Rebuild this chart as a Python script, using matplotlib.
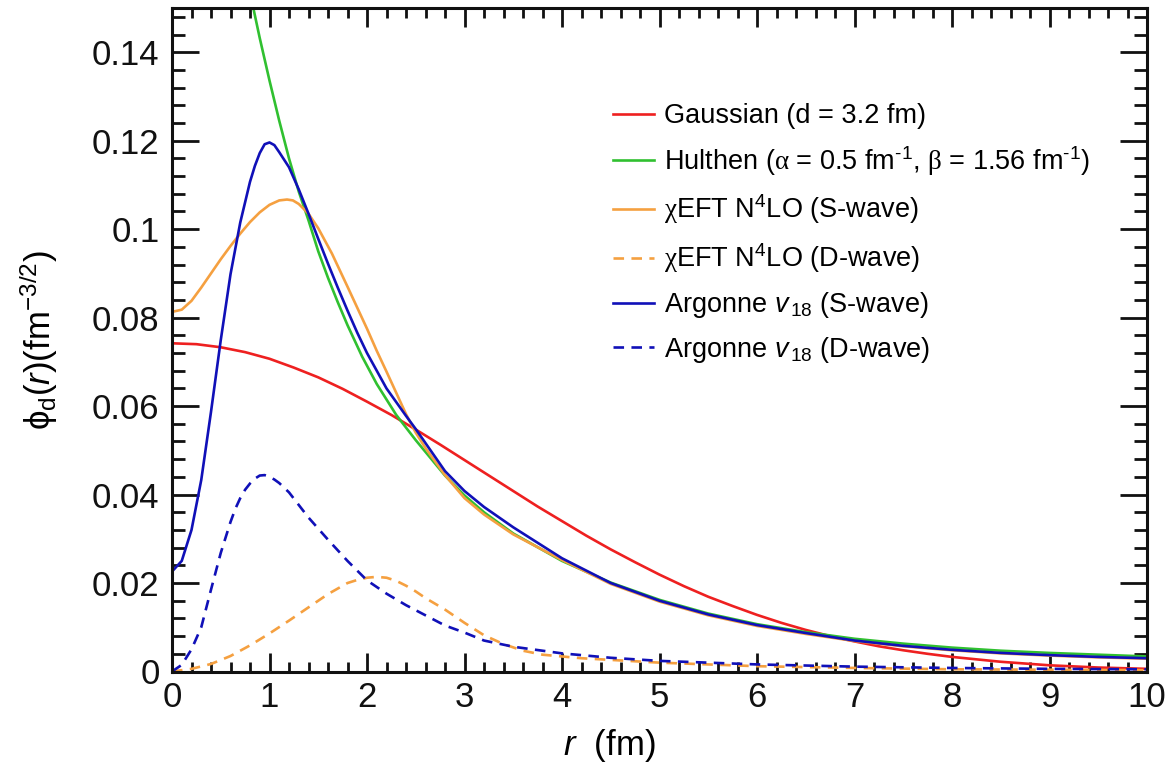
import matplotlib
matplotlib.use("Agg")
import matplotlib.pyplot as plt
from matplotlib.ticker import MultipleLocator

plt.rcParams['font.family'] = ['Liberation Sans', 'DejaVu Sans']
plt.rcParams['mathtext.fontset'] = 'custom'
plt.rcParams['mathtext.rm'] = 'Liberation Sans'
plt.rcParams['mathtext.it'] = 'Liberation Sans:italic'
plt.rcParams['mathtext.sf'] = 'Liberation Serif'

# ---- data (r in fm, phi in fm^-3/2) ----
r_gauss = [0, 0.25, 0.5, 0.75, 1.0, 1.25, 1.5, 1.75, 2.0, 2.25, 2.5, 2.75, 3.0, 3.25,
           3.5, 3.75, 4.0, 4.25, 4.5, 4.75, 5.0, 5.25, 5.5, 5.75, 6.0, 6.25, 6.5, 6.75,
           7.0, 7.25, 7.5, 7.75, 8.0, 8.5, 9.0, 9.5, 10.0]
phi_gauss = [0.0742, 0.0740, 0.0733, 0.0722, 0.0707, 0.0687, 0.0665, 0.0639, 0.0610,
             0.0580, 0.0547, 0.0513, 0.0478, 0.0443, 0.0408, 0.0373, 0.0340, 0.0307,
             0.0276, 0.0247, 0.0219, 0.0193, 0.0169, 0.0148, 0.0128, 0.0110, 0.0094,
             0.0080, 0.0068, 0.0057, 0.0048, 0.0040, 0.0033, 0.0022, 0.0014, 0.0009,
             0.0006]

r_hulthen = [0.834, 0.9, 1.0, 1.1, 1.2, 1.3, 1.4, 1.5, 1.6, 1.7, 1.8, 1.95, 2.1, 2.3,
             2.5, 2.8, 3.0, 3.2, 3.5, 4.0, 4.5, 5.0, 5.5, 6.0, 6.5, 7.0, 7.5, 8.0, 8.5,
             9.0, 9.5, 10.0]
phi_hulthen = [0.1500, 0.1432, 0.1336, 0.1245, 0.1160, 0.1085, 0.1020, 0.0950, 0.0890,
               0.0835, 0.0783, 0.0712, 0.0650, 0.0580, 0.0523, 0.0443, 0.0398, 0.0360,
               0.0312, 0.0250, 0.0201, 0.0162, 0.0131, 0.0107, 0.0089, 0.0074, 0.0063,
               0.0054, 0.0047, 0.0042, 0.0038, 0.0034]

r_eft_s = [0, 0.1, 0.2, 0.3, 0.4, 0.5, 0.6, 0.7, 0.8, 0.9, 1.0, 1.1, 1.18, 1.24, 1.3,
           1.4, 1.5, 1.64, 1.8, 2.0, 2.1, 2.2, 2.4, 2.5, 2.6, 2.8, 3.0, 3.2, 3.5, 4.0,
           4.5, 5.0, 5.5, 6.0, 6.5, 7.0, 7.5, 8.0, 8.5, 9.0, 9.5, 10.0]
phi_eft_s = [0.0813, 0.0818, 0.0838, 0.0868, 0.0900, 0.0932, 0.0962, 0.0990, 0.1016,
             0.1038, 0.1055, 0.1065, 0.1067, 0.1065, 0.1057, 0.1035, 0.1002, 0.0945,
             0.0870, 0.0775, 0.0725, 0.0678, 0.0582, 0.0540, 0.0505, 0.0444, 0.0392,
             0.0355, 0.0310, 0.0252, 0.0198, 0.0158, 0.0127, 0.0103, 0.0085, 0.0069,
             0.0057, 0.0048, 0.0041, 0.0036, 0.0032, 0.0029]

r_eft_d = [0, 0.2, 0.4, 0.6, 0.8, 1.0, 1.2, 1.4, 1.6, 1.8, 1.9, 2.0, 2.1, 2.2, 2.3,
           2.4, 2.5, 2.6, 2.8, 3.0, 3.2, 3.4, 3.6, 3.8, 4.2, 5.0, 6.0, 7.0, 8.0, 9.0,
           10.0]
phi_eft_d = [0.0, 0.0006, 0.0017, 0.0035, 0.0059, 0.0086, 0.0115, 0.0145, 0.0175,
             0.0200, 0.0207, 0.0212, 0.0214, 0.0212, 0.0205, 0.0194, 0.0181, 0.0166,
             0.0140, 0.0110, 0.0082, 0.0062, 0.0047, 0.0038, 0.0030, 0.0020, 0.0012,
             0.0008, 0.0005, 0.0004, 0.0003]

r_av18_s = [0, 0.1, 0.2, 0.3, 0.4, 0.5, 0.6, 0.7, 0.8, 0.85, 0.9, 0.95, 1.0, 1.05,
            1.1, 1.2, 1.3, 1.4, 1.5, 1.6, 1.7, 1.8, 1.9, 2.0, 2.2, 2.4, 2.5, 2.8, 3.0,
            3.2, 3.5, 4.0, 4.5, 5.0, 5.5, 6.0, 6.5, 7.0, 7.5, 8.0, 8.5, 9.0, 9.5, 10.0]
phi_av18_s = [0.0226, 0.0250, 0.0320, 0.0433, 0.0587, 0.0749, 0.0898, 0.1015, 0.1107,
              0.1143, 0.1172, 0.1192, 0.1196, 0.1190, 0.1174, 0.1140, 0.1090, 0.1035,
              0.0978, 0.0922, 0.0868, 0.0816, 0.0766, 0.0720, 0.0640, 0.0578, 0.0548,
              0.0453, 0.0408, 0.0372, 0.0326, 0.0256, 0.0200, 0.0160, 0.0129, 0.0105,
              0.0087, 0.0070, 0.0058, 0.0049, 0.0042, 0.0037, 0.0033, 0.0030]

r_av18_d = [0, 0.1, 0.2, 0.3, 0.4, 0.5, 0.6, 0.65, 0.7, 0.75, 0.8, 0.85, 0.9, 0.95,
            1.0, 1.05, 1.1, 1.2, 1.4, 1.6, 1.8, 2.0, 2.2, 2.4, 2.6, 2.8, 3.0, 3.2, 3.5,
            4.0, 4.5, 5.0, 6.0, 7.0, 8.0, 9.0, 10.0]
phi_av18_d = [0.0, 0.0015, 0.0050, 0.0100, 0.0185, 0.0268, 0.0338, 0.0368, 0.0392,
              0.0411, 0.0425, 0.0436, 0.0443, 0.0444, 0.0440, 0.0434, 0.0426, 0.0405,
              0.0348, 0.0298, 0.0250, 0.0206, 0.0176, 0.0150, 0.0127, 0.0104, 0.0088,
              0.0070, 0.0056, 0.0041, 0.0031, 0.0024, 0.0016, 0.0011, 0.0008, 0.0006,
              0.0005]

labels = ["Gaussian (d = 3.2 fm)",
          "Hulthen ($\\mathsf{\\alpha}$ = 0.5 fm$^{\u2010\\mathrm{1}}$, "
          "$\\mathsf{\\beta}$ = 1.56 fm$^{\u2010\\mathrm{1}}$)",
          r"$\mathsf{\chi}$EFT N$^{4}$LO (S-wave)",
          r"$\mathsf{\chi}$EFT N$^{4}$LO (D-wave)",
          r"Argonne $v_{\,\mathit{18}}$ (S-wave)",
          r"Argonne $v_{\,\mathit{18}}$ (D-wave)"]

RED, GREEN, ORANGE, BLUE = "#ee2020", "#30c030", "#f5a040", "#1010b8"
dash = (0, (4, 2.8))

fig = plt.figure(figsize=(11.7, 7.72), dpi=100)
ax = fig.add_axes([172/1170, 1-671.5/772, 975/1170, 663.5/772])

lw = 1.9
ax.plot(r_gauss, phi_gauss, color=RED, lw=lw, label=labels[0])
ax.plot(r_hulthen, phi_hulthen, color=GREEN, lw=lw, label=labels[1])
ax.plot(r_eft_s, phi_eft_s, color=ORANGE, lw=lw, label=labels[2])
ax.plot(r_eft_d, phi_eft_d, color=ORANGE, lw=lw, ls=dash, label=labels[3])
ax.plot(r_av18_s, phi_av18_s, color=BLUE, lw=lw, label=labels[4])
ax.plot(r_av18_d, phi_av18_d, color=BLUE, lw=lw, ls=dash, label=labels[5])

ax.set_xlim(0, 10)
ax.set_ylim(0, 0.15)
ax.set_xticks(range(0, 11))
ax.set_xticklabels([str(i) for i in range(0, 11)])
yt = [0, 0.02, 0.04, 0.06, 0.08, 0.1, 0.12, 0.14]
ax.set_yticks(yt)
ax.set_yticklabels(["0", "0.02", "0.04", "0.06", "0.08", "0.1", "0.12", "0.14"])
ax.xaxis.set_minor_locator(MultipleLocator(0.2))
ax.yaxis.set_minor_locator(MultipleLocator(0.004))

ax.tick_params(which="both", direction="in", top=True, right=True, width=2.0,
               labelsize=25, pad=9, colors="#111111")
ax.tick_params(axis="x", which="major", length=13.5, pad=7)
ax.tick_params(axis="x", which="minor", length=7.5)
ax.tick_params(axis="y", which="major", length=19.5)
ax.tick_params(axis="y", which="minor", length=9.5)
for s in ax.spines.values():
    s.set_linewidth(2.2)
    s.set_color("#111111")

ax.set_xlabel(r"$r$  (fm)", fontsize=25)
ax.xaxis.set_label_coords(0.449, -0.083)
ax.set_ylabel(r"$\mathrm{\phi}_{\mathrm{d}}(r)(\mathrm{fm}^{-3/2})$", fontsize=25)
ax.yaxis.set_label_coords(-0.115, 0.5)

ax.legend(loc="upper left", bbox_to_anchor=(613/1170, 1-103/772),
          bbox_transform=fig.transFigure, frameon=False, fontsize=19.5,
          handlelength=1.5, handletextpad=0.38, labelspacing=0.55,
          borderpad=0, borderaxespad=0)

fig.savefig("out.png", dpi=100)
